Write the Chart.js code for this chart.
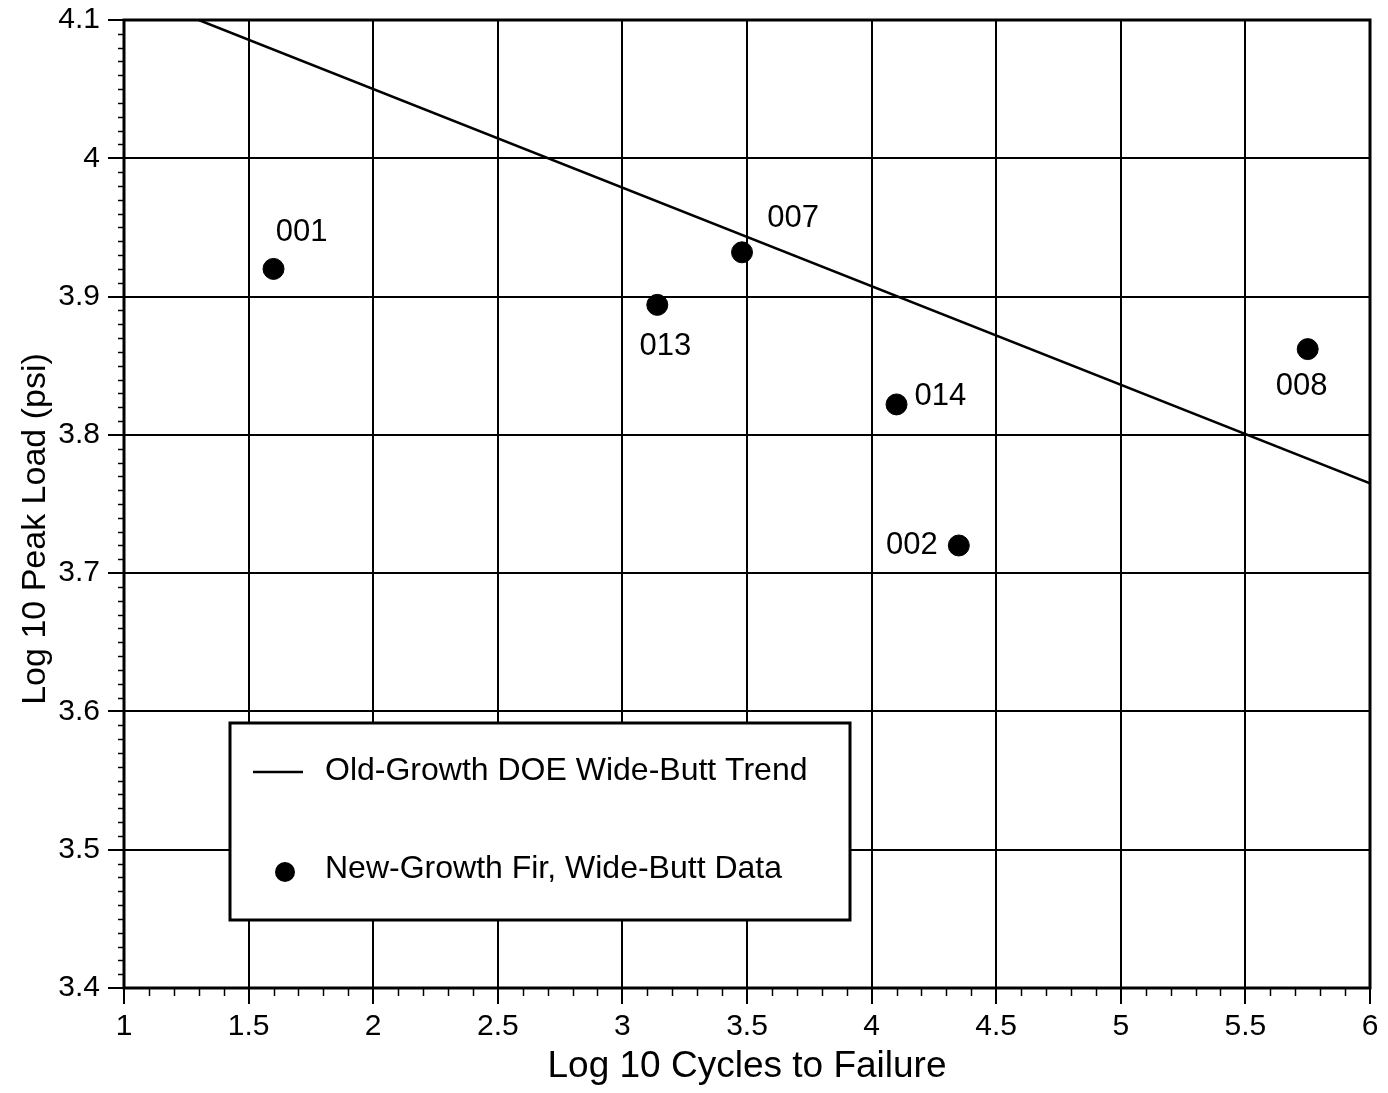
<!DOCTYPE html>
<html>
<head>
<meta charset="utf-8">
<script src="https://cdn.jsdelivr.net/npm/chart.js@4"></script>
<style>
  html, body { margin: 0; padding: 0; background: #fff; }
  #wrap { width: 1388px; height: 1093px; }
</style>
</head>
<body>
<div id="wrap"><canvas id="fatigue-chart" width="1388" height="1093"></canvas></div>
<script>
// specimen data
const specimenIds = ['001', '013', '007', '014', '002', '008'];
const logCycles = [1.60, 3.14, 3.48, 4.10, 4.35, 5.75];
const logPeakLoad = [3.920, 3.894, 3.932, 3.822, 3.720, 3.862];

// old-growth trend line endpoints
const trendX = [1.30, 6.0];
const trendY = [4.10, 3.765];

const FONT = '"Liberation Sans", Arial, Helvetica, sans-serif';

// where each specimen label sits relative to its dot
const labelPlacement = {
  '001': { dx: 28, dy: -36, align: 'center' },
  '013': { dx: 8, dy: 42, align: 'center' },
  '007': { dx: 51, dy: -34, align: 'center' },
  '014': { dx: 18, dy: -8, align: 'left' },
  '002': { dx: -21, dy: 0, align: 'right' },
  '008': { dx: -6, dy: 37, align: 'center' }
};

const fmt = v => String(Math.round(v * 10) / 10);

const frameAndTicks = {
  id: 'frameAndTicks',
  afterDraw(chart) {
    const { ctx, chartArea: a, scales: { x, y } } = chart;
    ctx.save();
    ctx.strokeStyle = '#000';
    ctx.lineWidth = 1.5;
    // minor ticks on x, every 0.1
    for (let i = 10; i <= 60; i++) {
      if (i % 5 === 0) continue;
      const px = Math.round(x.getPixelForValue(i / 10)) + 0.5;
      ctx.beginPath();
      ctx.moveTo(px, a.bottom);
      ctx.lineTo(px, a.bottom + 8);
      ctx.stroke();
    }
    // minor ticks on y, every 0.01
    for (let i = 340; i <= 410; i++) {
      if (i % 10 === 0) continue;
      const py = Math.round(y.getPixelForValue(i / 100)) + 0.5;
      ctx.beginPath();
      ctx.moveTo(a.left, py);
      ctx.lineTo(a.left - 6, py);
      ctx.stroke();
    }
    // heavy frame
    ctx.lineWidth = 3;
    ctx.strokeRect(a.left, a.top, a.right - a.left, a.bottom - a.top);

    // y axis title
    ctx.fillStyle = '#000';
    ctx.save();
    ctx.translate(36, 529);
    ctx.rotate(-Math.PI / 2);
    ctx.font = '34px ' + FONT;
    ctx.textAlign = 'center';
    ctx.textBaseline = 'middle';
    ctx.fillText('Log 10 Peak Load (psi)', 0, 0);
    ctx.restore();

    // specimen labels
    ctx.font = '31px ' + FONT;
    ctx.textBaseline = 'middle';
    specimenIds.forEach((id, i) => {
      const p = labelPlacement[id];
      ctx.textAlign = p.align;
      ctx.fillText(id, x.getPixelForValue(logCycles[i]) + p.dx, y.getPixelForValue(logPeakLoad[i]) + p.dy);
    });

    // legend box
    const bx = 230, by = 723, bw = 620, bh = 197;
    ctx.fillStyle = '#fff';
    ctx.fillRect(bx, by, bw, bh);
    ctx.lineWidth = 3;
    ctx.strokeRect(bx, by, bw, bh);
    ctx.lineWidth = 2.5;
    ctx.beginPath();
    ctx.moveTo(253, 772);
    ctx.lineTo(303, 772);
    ctx.stroke();
    ctx.fillStyle = '#000';
    ctx.beginPath();
    ctx.arc(285, 872, 10, 0, Math.PI * 2);
    ctx.fill();
    ctx.font = '32px ' + FONT;
    ctx.textAlign = 'left';
    ctx.fillText(chart.data.datasets[0].label, 325, 771);
    ctx.fillText(chart.data.datasets[1].label, 325, 869);
    ctx.restore();
  }
};

new Chart(document.getElementById('fatigue-chart').getContext('2d'), {
  type: 'scatter',
  data: {
    datasets: [{
      label: 'Old-Growth DOE Wide-Butt Trend',
      data: trendX.map((v, i) => ({ x: v, y: trendY[i] })),
      showLine: true,
      borderColor: '#000',
      borderWidth: 2.5,
      pointRadius: 0,
      fill: false
    }, {
      label: 'New-Growth Fir, Wide-Butt Data',
      data: logCycles.map((v, i) => ({ x: v, y: logPeakLoad[i] })),
      backgroundColor: '#000',
      borderColor: '#000',
      pointRadius: 10.5,
      pointHoverRadius: 10.5
    }]
  },
  options: {
    responsive: false,
    animation: false,
    layout: { padding: { top: 20, right: 18, left: 0, bottom: 0 } },
    plugins: { legend: { display: false }, tooltip: { enabled: false } },
    scales: {
      x: {
        type: 'linear',
        min: 1,
        max: 6,
        afterFit: s => { s.height = 105; s.paddingLeft = 0; s.paddingRight = 0; },
        ticks: { stepSize: 0.5, callback: fmt, color: '#000', padding: 5, maxRotation: 0, font: { size: 30, family: FONT } },
        grid: { color: '#000', lineWidth: 2, tickLength: 16, tickWidth: 2, tickColor: '#000' },
        border: { display: false },
        title: { display: true, text: 'Log 10 Cycles to Failure', color: '#000', padding: { top: 0 }, font: { size: 37, family: FONT } }
      },
      y: {
        type: 'linear',
        min: 3.4,
        max: 4.1,
        afterFit: s => { s.width = 124; s.paddingTop = 0; s.paddingBottom = 0; },
        ticks: { stepSize: 0.1, callback: fmt, color: '#000', padding: 8, font: { size: 30, family: FONT } },
        grid: { color: '#000', lineWidth: 2, tickLength: 16, tickWidth: 2, tickColor: '#000' },
        border: { display: false },
        title: { display: false }
      }
    }
  },
  plugins: [frameAndTicks]
});
</script>
</body>
</html>
